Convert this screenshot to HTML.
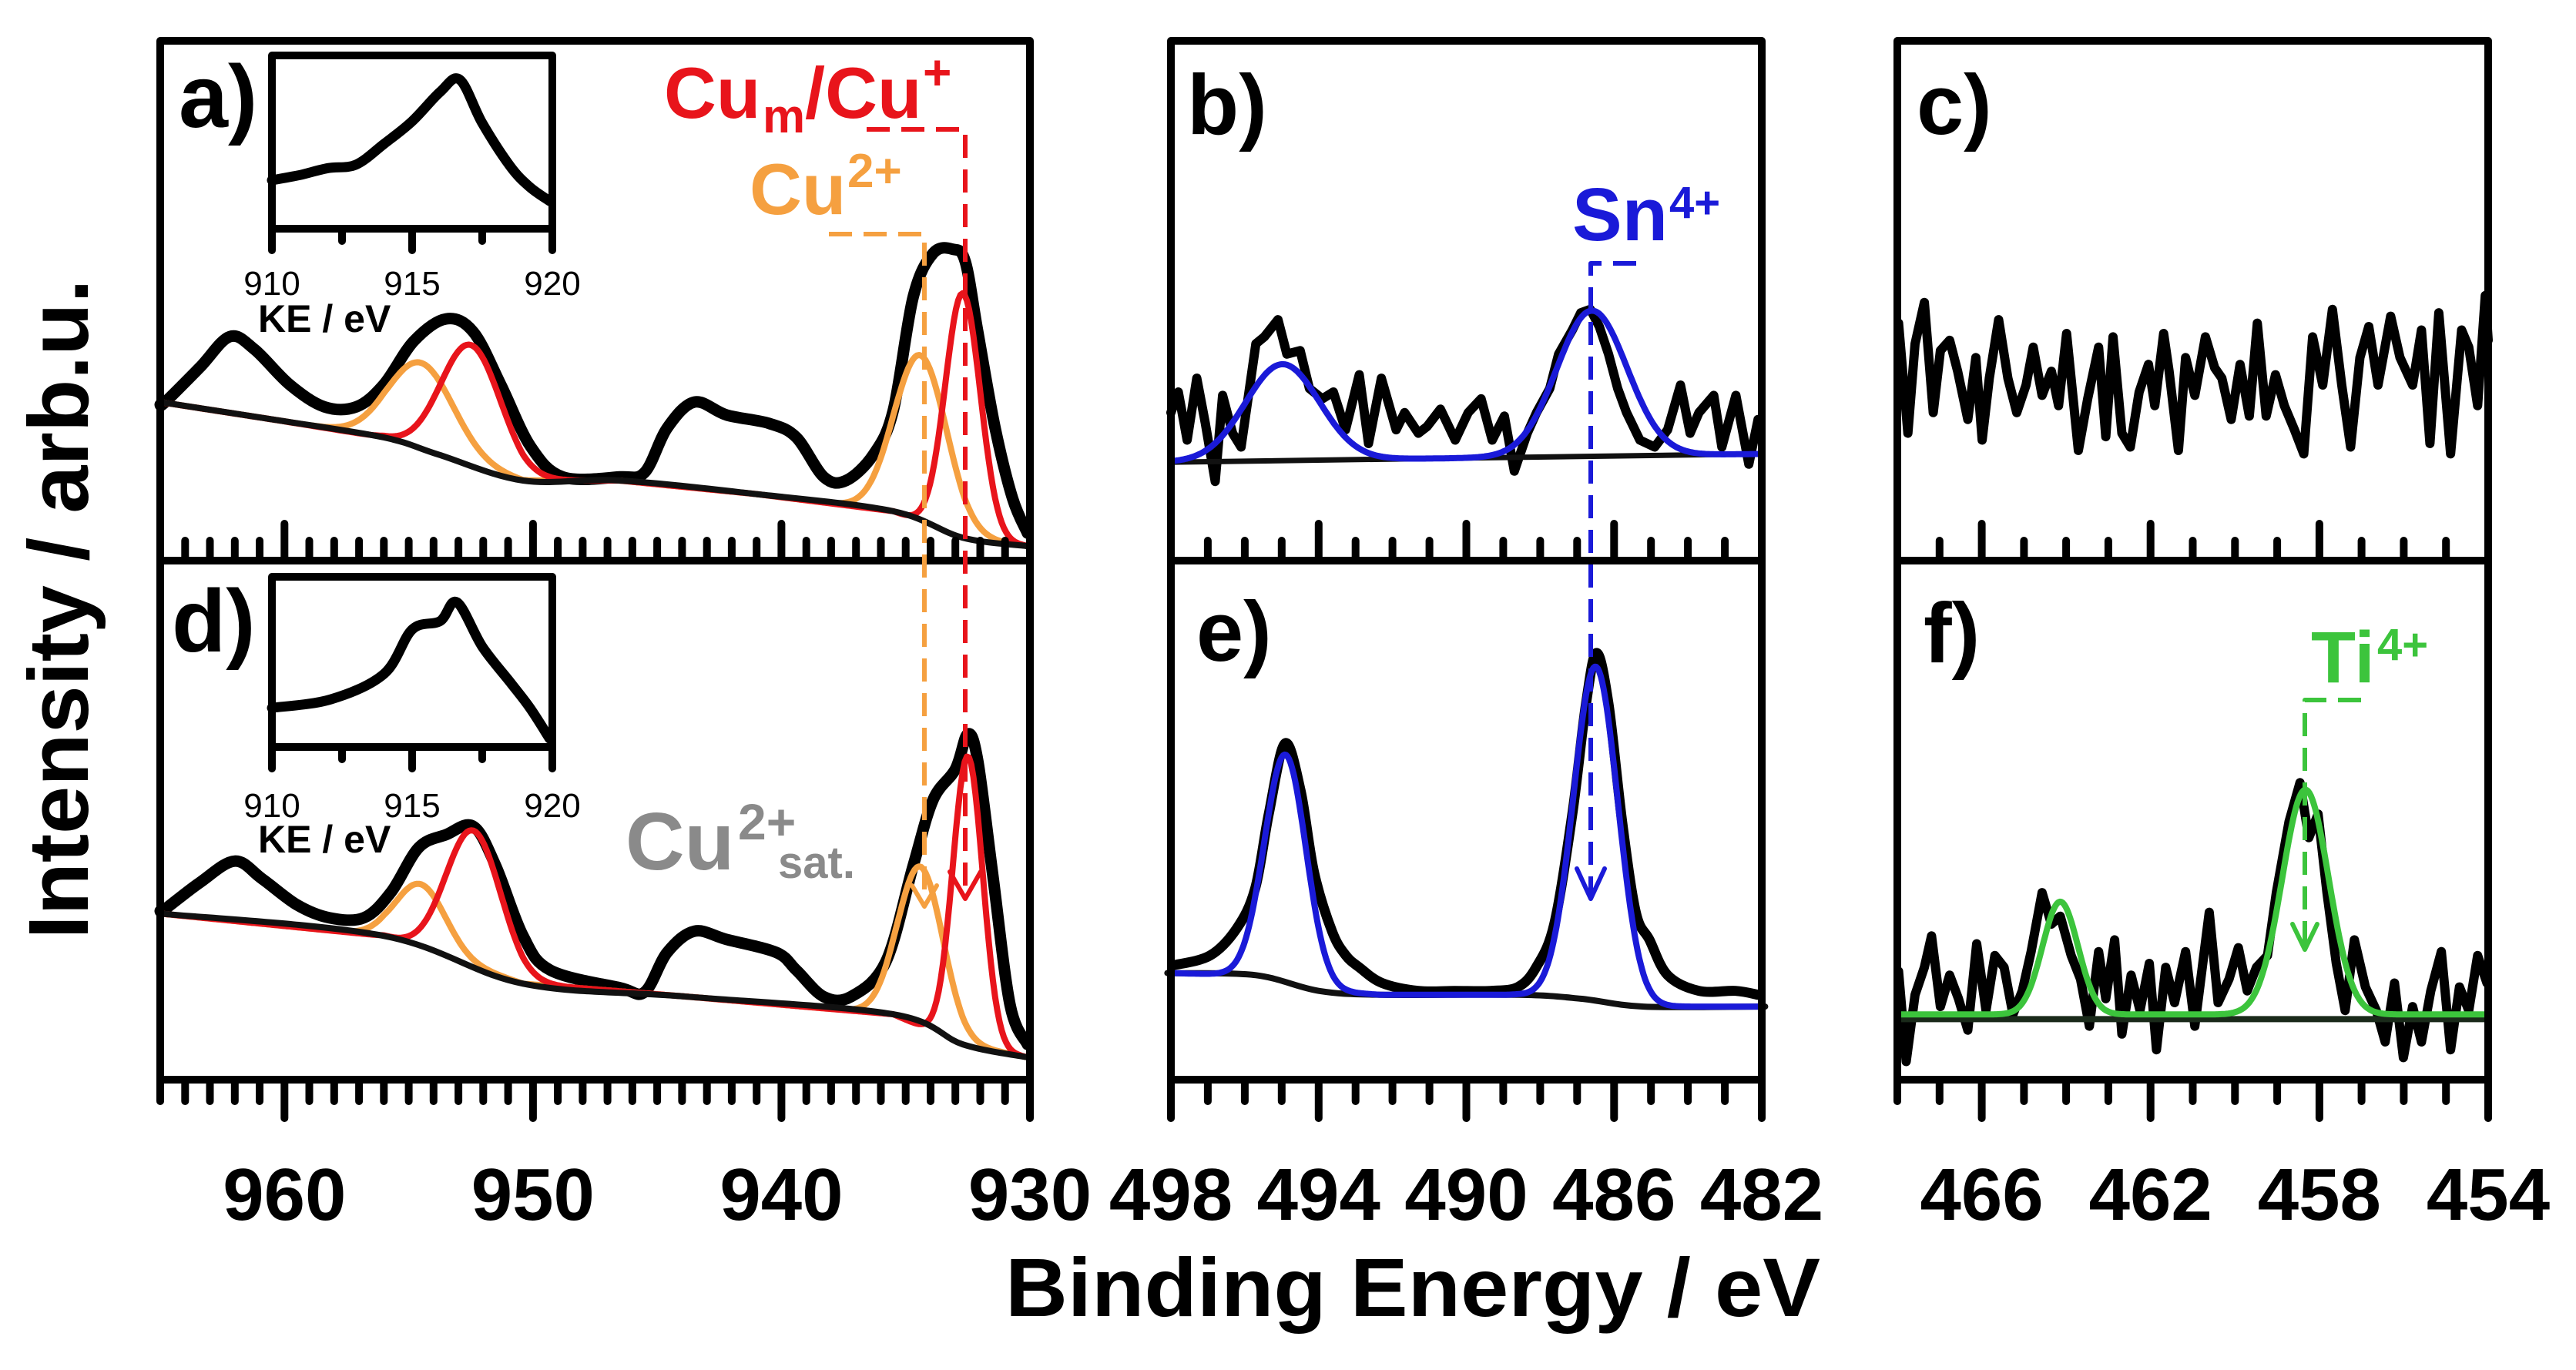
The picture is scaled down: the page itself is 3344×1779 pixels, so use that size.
<!DOCTYPE html>
<html><head><meta charset="utf-8"><style>
html,body{margin:0;padding:0;background:#fff;}
svg{display:block;}
text{font-family:"Liberation Sans",Arial,sans-serif;}
</style></head><body>
<svg id="fig" xmlns="http://www.w3.org/2000/svg" width="3344" height="1779" viewBox="0 0 3344 1779">
<rect x="0" y="0" width="3344" height="1779" fill="#fff"/>
<g id="layer"></g>
<g id="labels">
<text x="232" y="165" font-size="115" font-weight="bold">a)</text>
<text x="1541" y="174" font-size="110" font-weight="bold">b)</text>
<text x="2488" y="174" font-size="110" font-weight="bold">c)</text>
<text x="223" y="846" font-size="115" font-weight="bold">d)</text>
<text x="1553" y="858" font-size="110" font-weight="bold">e)</text>
<text x="2497" y="860" font-size="110" font-weight="bold">f)</text>
<g fill="#e8141b" font-weight="bold">
<text x="862" y="153" font-size="94">Cu</text><text x="990" y="172" font-size="62">m</text><text x="1045" y="153" font-size="94">/Cu</text><text x="1198" y="116" font-size="64">+</text></g>
<g fill="#f5a040" font-weight="bold">
<text x="973" y="278" font-size="94">Cu</text><text x="1100" y="243" font-size="62">2+</text></g>
<g fill="#8a8a8a" font-weight="bold">
<text x="812" y="1129" font-size="106">Cu</text><text x="958" y="1090" font-size="66">2+</text><text x="1010" y="1140" font-size="58">sat.</text></g>
<g fill="#1a1ad8" font-weight="bold">
<text x="2041" y="312" font-size="97">Sn</text><text x="2167" y="283" font-size="58">4+</text></g>
<g fill="#3cc43c" font-weight="bold">
<text x="3000" y="886" font-size="95">Ti</text><text x="3086" y="857" font-size="58">4+</text></g>
<text x="1834" y="1709" font-size="108" font-weight="bold" text-anchor="middle" textLength="1058" lengthAdjust="spacingAndGlyphs">Binding Energy / eV</text>
<text transform="translate(114,791) rotate(-90)" font-size="110" font-weight="bold" text-anchor="middle" textLength="857" lengthAdjust="spacingAndGlyphs">Intensity / arb.u.</text>
<text x="335" y="431" font-size="50" font-weight="bold">KE / eV</text>
<text x="335" y="1107" font-size="50" font-weight="bold">KE / eV</text>
</g>
</svg>
<script>
// ---- Cu 2p data (panel a) ----
const cuAE = [965,964.8,963.4,962.2,961.2,959.8,958.4,957.1,956.0,954.8,953.5,952.4,951.3,950.1,948.8,946.5,945.5,944.6,943.5,942.2,940.5,939.4,938.3,937.4,936.3,935.5,934.7,933.9,933.1,932.6,932.1,931.4,930.7,930.1];
const cuAI = [30.0,30.5,37.2,43.1,40.6,33.9,29.6,29.6,33.9,42.2,46.5,44.0,33.9,22.0,16.1,16.1,17.0,25.5,30.5,28.0,26.4,23.7,16.1,15.4,20.4,28.9,50.7,59.1,59.9,57.5,44.0,25.5,12.0,5.3];
const bgAE = [965,960.4,956.0,953.8,950.4,946.5,941.0,935.5,932.7,930.1];
const bgAI = [30.5,27.1,23.7,20.4,15.4,15.4,12.8,9.5,4.4,2.8];
const redA = [[932.7,47,0.7],[952.5,23,1.2]];
const orangeA = [[934.4,32,1.05],[954.5,16.6,1.3]];
// ---- Cu 2p data (panel d) ----
const cuDE = [965,964.8,963.4,962.0,960.9,959.5,958.2,956.8,955.7,954.6,953.5,952.4,951.5,950.4,949.3,946.5,945.5,944.6,943.5,942.2,940.2,939.4,938.3,937.2,935.8,934.7,933.9,933.0,932.5,932.1,931.5,930.8,930.1];
const cuDI = [32.5,32.9,38.0,42.1,38.7,33.7,31.2,31.2,36.2,44.7,47.2,48.8,41.2,27.7,21.1,17.7,16.9,24.5,28.6,27.0,24.5,21.1,16.0,16.0,22.7,41.2,53.9,59.8,66.6,61.4,39.6,14.4,6.8];
const bgDE = [965,956,950.4,943.8,935.5,932.7,930.1];
const bgDI = [32,27.7,18.5,16,12.6,6.8,4.3];
const redD = [[932.5,55.7,0.6],[952.4,26.2,1.1]];
const orangeD = [[934.4,30.7,0.9],[954.5,12.4,1.0]];
// ---- Cu LMM insets ----
const insAE = [910,911,912,913,914,915,916,916.7,917.5,918.5,919.2,919.9];
const insAI = [28,31,35,37,49,62,79,86,61,36,24,16];
const insDE = [910,912.1,914.0,915.0,916.0,916.6,917.5,918.5,919.2,919.9];
const insDI = [23,28,43,69,74,85,59,38,23,5];
// ---- Sn 3d (panel b) ----
const snBE = [498.0,497.8,497.56,497.3,497.07,496.8,496.6,496.33,496.1,495.7,495.47,495.1,494.86,494.5,494.25,493.9,493.6,493.27,492.9,492.65,492.3,491.9,491.67,491.3,491.06,490.7,490.3,489.95,489.6,489.3,488.97,488.7,488.35,488.1,487.74,487.5,487.13,486.9,486.64,486.4,486.15,485.9,485.66,485.3,484.9,484.55,484.2,483.94,483.7,483.3,483.08,482.7,482.35,482.1];
const snBI = [43,49,35,53,40,23,48,37,33,63,65,70,60,61,50,47,49,38,54,34,53,38,43,37,39,44,35,43,47,35,42,26,37,43,50,60,67,72,73,68,60,50,43,35,33,38,51,37,43,48,33,48,28,41];
const bgBE = [498,482];
const bgBI = [28.6,31];
const snPeaksB = [[494.98,28,1.0],[486.6,42.3,0.95]];
// ---- Sn 3d (panel e) ----
const snEE = [497.93,496.94,496.21,495.72,495.35,494.91,494.49,494.12,493.63,493.26,492.9,492.28,491.3,490.32,489.34,488.6,488.11,487.62,487.13,486.76,486.47,486.15,485.78,485.41,485.04,484.55,483.7,482.71,482.1];
const snEI = [29.1,31.6,38.6,48.6,67.6,85.6,73.6,52.6,37.6,31.6,28.6,24.6,22.6,22.6,22.6,23.6,28.6,39.6,67.6,95.6,108.6,95.6,65.6,42.6,35.6,26.6,22.6,22.6,21.6];
const bgEE = [498,497.9,495.7,494.0,492.3,488.6,486.9,485.2,482.2,482];
const bgEI = [27.1,27.1,26.6,22.6,21.6,21.6,20.6,18.6,18.6,18.6];
const snPeaksE = [[494.9,58,0.56],[486.5,85,0.6]];
// ---- Ti 2p (panel c) ----
const tiCE = [467.97,467.75,467.58,467.36,467.15,466.98,466.76,466.57,466.33,466.14,465.99,465.82,465.6,465.38,465.17,464.95,464.78,464.57,464.35,464.18,463.99,463.71,463.49,463.23,463.06,462.89,462.68,462.48,462.27,462.05,461.9,461.69,461.56,461.34,461.17,460.95,460.7,460.48,460.31,460.09,459.88,459.66,459.47,459.26,459.04,458.83,458.59,458.37,458.16,457.92,457.69,457.47,457.26,457.04,456.83,456.61,456.31,456.09,455.79,455.58,455.38,455.17,454.89,454.63,454.46,454.25,454.07,454.0];
const tiCI = [69,37,63,75,43,61,64,55,41,59,35,53,70,53,43,51,62,48,55,45,66,32,47,62,36,65,37,33,49,57,45,66,55,32,59,48,65,56,53,41,57,42,69,42,54,45,38,31,65,51,73,51,33,59,68,51,71,59,51,67,34,72,31,67,62,45,77,64];
// ---- Ti 2p (panel f) ----
const tiFE = [467.97,467.79,467.58,467.36,467.19,466.98,466.76,466.55,466.33,466.12,465.9,465.69,465.47,465.26,465.04,464.83,464.57,464.35,464.14,463.88,463.66,463.45,463.23,463.06,462.85,462.68,462.46,462.25,462.03,461.86,461.64,461.43,461.17,460.95,460.61,460.4,460.14,459.92,459.71,459.49,459.23,459.02,458.72,458.46,458.25,458.03,457.82,457.6,457.39,457.17,456.91,456.65,456.44,456.22,456.01,455.79,455.58,455.36,455.11,454.89,454.68,454.46,454.25,454.03];
const tiFI = [27.6,4.6,21.6,28.6,36.6,18.6,26.6,20.6,12.6,34.6,17.6,31.6,28.6,16.6,22.6,32.6,47.6,39.6,41.6,31.6,25.6,13.6,32.6,20.6,35.6,11.6,26.6,17.6,29.6,7.6,28.6,19.6,32.6,13.6,42.6,19.6,25.6,33.6,22.6,28.6,31.6,47.6,65.6,75.6,61.6,67.6,47.6,29.6,17.6,35.6,23.6,17.6,9.6,24.6,5.6,18.6,9.6,22.6,32.6,7.6,23.6,17.6,31.6,24.6];
const bgFE = [468,454];
const bgFI = [15.4,15.4];
const tiPeaksF = [[464.14,28.7,0.42],[458.33,57.2,0.55]];
// ---- tick labels ----
const ticksCu = [960,950,940,930];
const ticksSn = [498,494,490,486,482];
const ticksTi = [466,462,458,454];
const ticksIns = [910,915,920];

const NS = 'http://www.w3.org/2000/svg';
const layer = document.getElementById('layer');

const PA = {x0:208,x1:1337,e0:965,e1:930,yt:53,yb:728,imax:100};
const PD = {x0:208,x1:1337,e0:965,e1:930,yt:728,yb:1402,imax:100};
const PB = {x0:1520,x1:2287,e0:498,e1:482,yt:53,yb:728,imax:151};
const PE = {x0:1520,x1:2287,e0:498,e1:482,yt:728,yb:1402,imax:132.1};
const PC = {x0:2463,x1:3230,e0:468,e1:454,yt:53,yb:728,imax:151};
const PF = {x0:2463,x1:3230,e0:468,e1:454,yt:728,yb:1402,imax:132.1};
const IA = {x0:353,x1:717,e0:910,e1:920,yt:72,yb:297,imax:100};
const ID = {x0:353,x1:717,e0:910,e1:920,yt:749,yb:970,imax:100};

function xs(p,e){return p.x0+(e-p.e0)/(p.e1-p.e0)*(p.x1-p.x0);}
function ys(p,v){return p.yb-v/p.imax*(p.yb-p.yt);}
function interp(e,E,V){
  for(let i=0;i<E.length-1;i++){
    const a=E[i],b=E[i+1];
    if((e-a)*(e-b)<=0){const t=(b===a)?0:(e-a)/(b-a);return V[i]+t*(V[i+1]-V[i]);}
  }
  return Math.abs(e-E[0])<Math.abs(e-E[E.length-1])?V[0]:V[V.length-1];
}
function gsum(e,pk){let s=0;for(const q of pk){s+=q[1]*Math.exp(-(e-q[0])*(e-q[0])/(2*q[2]*q[2]));}return s;}

function addPath(d,stroke,w,name,extra){
  const el=document.createElementNS(NS,'path');
  
  
  el.setAttribute('d',d);
  el.setAttribute('fill','none');
  el.setAttribute('stroke',stroke);
  el.setAttribute('stroke-width',w);
  el.setAttribute('stroke-linejoin','round');
  el.setAttribute('stroke-linecap','round');
  if(extra){el.setAttribute('stroke-dasharray',extra);el.setAttribute('stroke-linecap','butt');}
  layer.appendChild(el);
  return el;
}
function addText(x,y,s,size,weight,name){
  const el=document.createElementNS(NS,'text');
  
  
  el.setAttribute('x',x);el.setAttribute('y',y);
  el.setAttribute('font-size',size);
  el.setAttribute('font-weight',weight);
  el.setAttribute('text-anchor','middle');
  el.textContent=s;
  layer.appendChild(el);
}
function seriesPath(p,E,V){
  let d='';
  for(let i=0;i<E.length;i++){d+=(i?'L':'M')+xs(p,E[i]).toFixed(1)+','+ys(p,V[i]).toFixed(1);}
  return d;
}
function smoothPath(p,E,V){
  const P=E.map((e,i)=>[xs(p,e),ys(p,V[i])]);
  let d='M'+P[0][0].toFixed(1)+','+P[0][1].toFixed(1);
  for(let i=0;i<P.length-1;i++){
    const p0=P[Math.max(0,i-1)],p1=P[i],p2=P[i+1],p3=P[Math.min(P.length-1,i+2)];
    const c1=[p1[0]+(p2[0]-p0[0])/6,p1[1]+(p2[1]-p0[1])/6];
    const c2=[p2[0]-(p3[0]-p1[0])/6,p2[1]-(p3[1]-p1[1])/6];
    d+='C'+c1[0].toFixed(1)+','+c1[1].toFixed(1)+' '+c2[0].toFixed(1)+','+c2[1].toFixed(1)+' '+p2[0].toFixed(1)+','+p2[1].toFixed(1);
  }
  return d;
}
function modelPath(p,bgE,bgI,pk){
  let d='';const n=400;
  for(let i=0;i<=n;i++){const e=p.e0+(p.e1-p.e0)*i/n;const v=interp(e,bgE,bgI)+gsum(e,pk);
    d+=(i?'L':'M')+xs(p,e).toFixed(1)+','+ys(p,v).toFixed(1);}
  return d;
}
function ticks(p,y,dir,major,minorStep,majLen,minLen,name){
  let d='';const lo=Math.min(p.e0,p.e1),hi=Math.max(p.e0,p.e1);
  for(let e=Math.ceil(lo/minorStep)*minorStep;e<=hi+1e-6;e+=minorStep){
    const isMaj=major.some(m=>Math.abs(m-e)<1e-6);
    const x=xs(p,e);d+='M'+x.toFixed(1)+','+y+'V'+(y+dir*(isMaj?majLen:minLen));
  }
  addPath(d,'#000',10,name);
}

// data first
addPath(smoothPath(PA,cuAE,cuAI),'#000',15,'cu-data-a');
addPath(smoothPath(PD,cuDE,cuDI),'#000',15,'cu-data-d');
// components a,d
addPath(modelPath(PA,bgAE,bgAI,orangeA),'#f5a040',8,'cu2-component-a');
addPath(modelPath(PD,bgDE,bgDI,orangeD),'#f5a040',8,'cu2-component-d');
addPath(modelPath(PA,bgAE,bgAI,redA),'#e8141b',8,'cu-metal-component-a');
addPath(modelPath(PD,bgDE,bgDI,redD),'#e8141b',8,'cu-metal-component-d');
// background lines on top
addPath(smoothPath(PA,bgAE,bgAI),'#111',8,'background-a');
addPath(smoothPath(PD,bgDE,bgDI),'#111',8,'background-d');

addPath(seriesPath(PB,snBE,snBI),'#000',12,'sn-data-b');
addPath(smoothPath(PE,snEE,snEI),'#000',13,'sn-data-e');
addPath(seriesPath(PB,bgBE,bgBI),'#111',7,'background-b');
addPath(smoothPath(PE,bgEE,bgEI),'#111',8,'background-e');
addPath(modelPath(PB,bgBE,bgBI,snPeaksB),'#1a1ad8',8,'sn-fit-b');
addPath(modelPath(PE,bgEE,bgEI,snPeaksE),'#1a1ad8',8,'sn-fit-e');
addPath(seriesPath(PC,tiCE,tiCI),'#000',12,'ti-data-c');
addPath(seriesPath(PF,tiFE,tiFI),'#000',12,'ti-data-f');
addPath(seriesPath(PF,bgFE,bgFI),'#1a2a1a',8,'background-f');
addPath(modelPath(PF,bgFE,bgFI.map(v=>v+1.2),tiPeaksF),'#3cc43c',8,'ti-fit-f');
// insets data
addPath(smoothPath(IA,insAE,insAI),'#000',13,'inset-a-data');
addPath(smoothPath(ID,insDE,insDI),'#000',13,'inset-d-data');

// frames
function frame(x0,y0,x1,y1,ym,name){
  let d='M'+x0+','+y0+'H'+x1+'V'+y1+'H'+x0+'Z';
  if(ym)d+='M'+x0+','+ym+'H'+x1;
  addPath(d,'#000',10,name);
  layer.lastChild.setAttribute('stroke-linecap','square');
}
frame(208,53,1337,1402,728,'frame-cu');
frame(1520,53,2287,1402,728,'frame-sn');
frame(2463,53,3230,1402,728,'frame-ti');
frame(353,72,717,297,0,'inset-a-frame');
frame(353,749,717,970,0,'inset-d-frame');

// ticks
ticks(PA,728,-1,ticksCu,1,48,26,'ticks-a');
ticks(PD,1402,1,ticksCu,1,50,28,'ticks-d');
ticks(PB,728,-1,ticksSn,1,48,26,'ticks-b');
ticks(PE,1402,1,ticksSn,1,50,28,'ticks-e');
ticks(PC,728,-1,ticksTi,1,48,26,'ticks-c');
ticks(PF,1402,1,ticksTi,1,50,28,'ticks-f');
ticks(IA,297,1,ticksIns,2.5,28,16,'inset-a-ticks');
ticks(ID,970,1,ticksIns,2.5,28,16,'inset-d-ticks');

// tick labels
for(const t of ticksCu){addText(xs(PD,t),1584,String(t),96,'bold','x-tick-label-cu');}
for(const t of ticksSn){addText(xs(PE,t),1584,String(t),96,'bold','x-tick-label-sn');}
for(const t of ticksTi){addText(xs(PF,t),1584,String(t),96,'bold','x-tick-label-ti');}
for(const t of ticksIns){addText(xs(IA,t),383,String(t),44,'normal','inset-a-tick-label');addText(xs(ID,t),1061,String(t),44,'normal','inset-d-tick-label');}

// guide lines with arrows
const DASH='30 15';
addPath('M1125,168H1253V1150','#e8141b',6,'cu-metal-guide',DASH);
addPath('M1233,1132L1253,1167L1273,1132','#e8141b',6,'cu-metal-arrow');
addPath('M1076,304H1200V1160','#f5a040',6,'cu2-guide',DASH);
addPath('M1184,1150L1200,1177L1216,1150','#f5a040',6,'cu2-arrow');
addPath('M2124,342H2065V1160','#1a1ad8',6,'sn-guide',DASH);
addPath('M2047,1128L2065,1167L2083,1128','#1a1ad8',6,'sn-arrow');
addPath('M3065,909H2992V1226','#3cc43c',6,'ti-guide',DASH);
addPath('M2976,1200L2992,1233L3008,1200','#3cc43c',6,'ti-arrow');
</script>
</body></html>
